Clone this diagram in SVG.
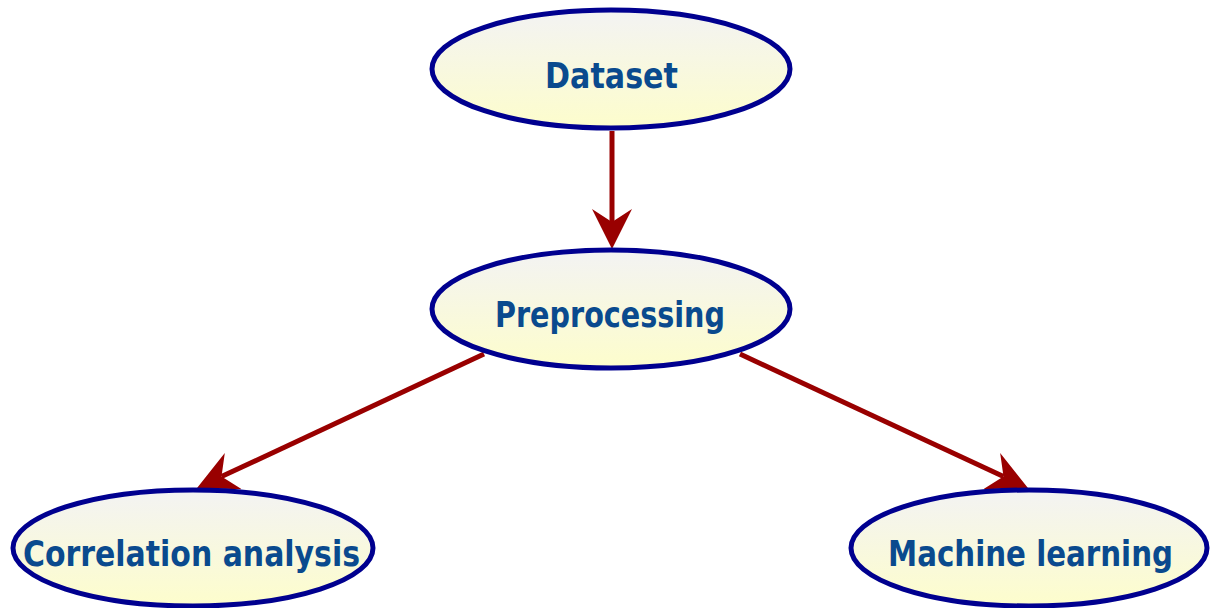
<svg xmlns="http://www.w3.org/2000/svg" width="1210" height="608" viewBox="0 0 1210 608">
<style>
.node ellipse{fill:url(#g);stroke:#00008f;stroke-width:5}
.node text{font-family:"Comic Sans MS","DejaVu Sans",sans-serif;font-weight:bold;font-size:35px;fill:#0a4a8e;text-anchor:middle}
.edge{stroke:#990000;stroke-width:5;fill:none;marker-end:url(#ah)}
</style>
<defs>
<linearGradient id="g" x1="0" y1="0" x2="0" y2="1">
<stop offset="0" stop-color="#f3f3f3"/>
<stop offset="1" stop-color="#fdfdcc"/>
</linearGradient>
<marker id="ah" viewBox="0 0 40 40" refX="13" refY="20" markerWidth="40" markerHeight="40" markerUnits="userSpaceOnUse" orient="auto">
<path d="M0,0 L40,20 L0,40 L13,20 z" fill="#990000"/>
</marker>
</defs>
<rect width="1210" height="608" fill="#ffffff"/>
<g id="connectors">
<line class="edge" x1="612" y1="131" x2="612" y2="222"/>
<line class="edge" x1="484" y1="354" x2="221.5" y2="476.6"/>
<line class="edge" x1="740" y1="354" x2="1003.5" y2="476.6"/>
</g>
<g id="dataset" class="node">
<ellipse cx="611" cy="69" rx="179" ry="59"/>
<text x="611.5" y="88" textLength="133" lengthAdjust="spacingAndGlyphs">Dataset</text>
</g>
<g id="preprocessing" class="node">
<ellipse cx="611" cy="309" rx="179" ry="59"/>
<text x="610" y="327" textLength="230" lengthAdjust="spacingAndGlyphs">Preprocessing</text>
</g>
<g id="correlation" class="node">
<ellipse cx="193" cy="548" rx="180" ry="58"/>
<text x="191.5" y="566" textLength="337" lengthAdjust="spacingAndGlyphs">Correlation analysis</text>
</g>
<g id="machine" class="node">
<ellipse cx="1029" cy="548" rx="178" ry="58"/>
<text x="1030.5" y="566" textLength="285" lengthAdjust="spacingAndGlyphs">Machine learning</text>
</g>
</svg>
